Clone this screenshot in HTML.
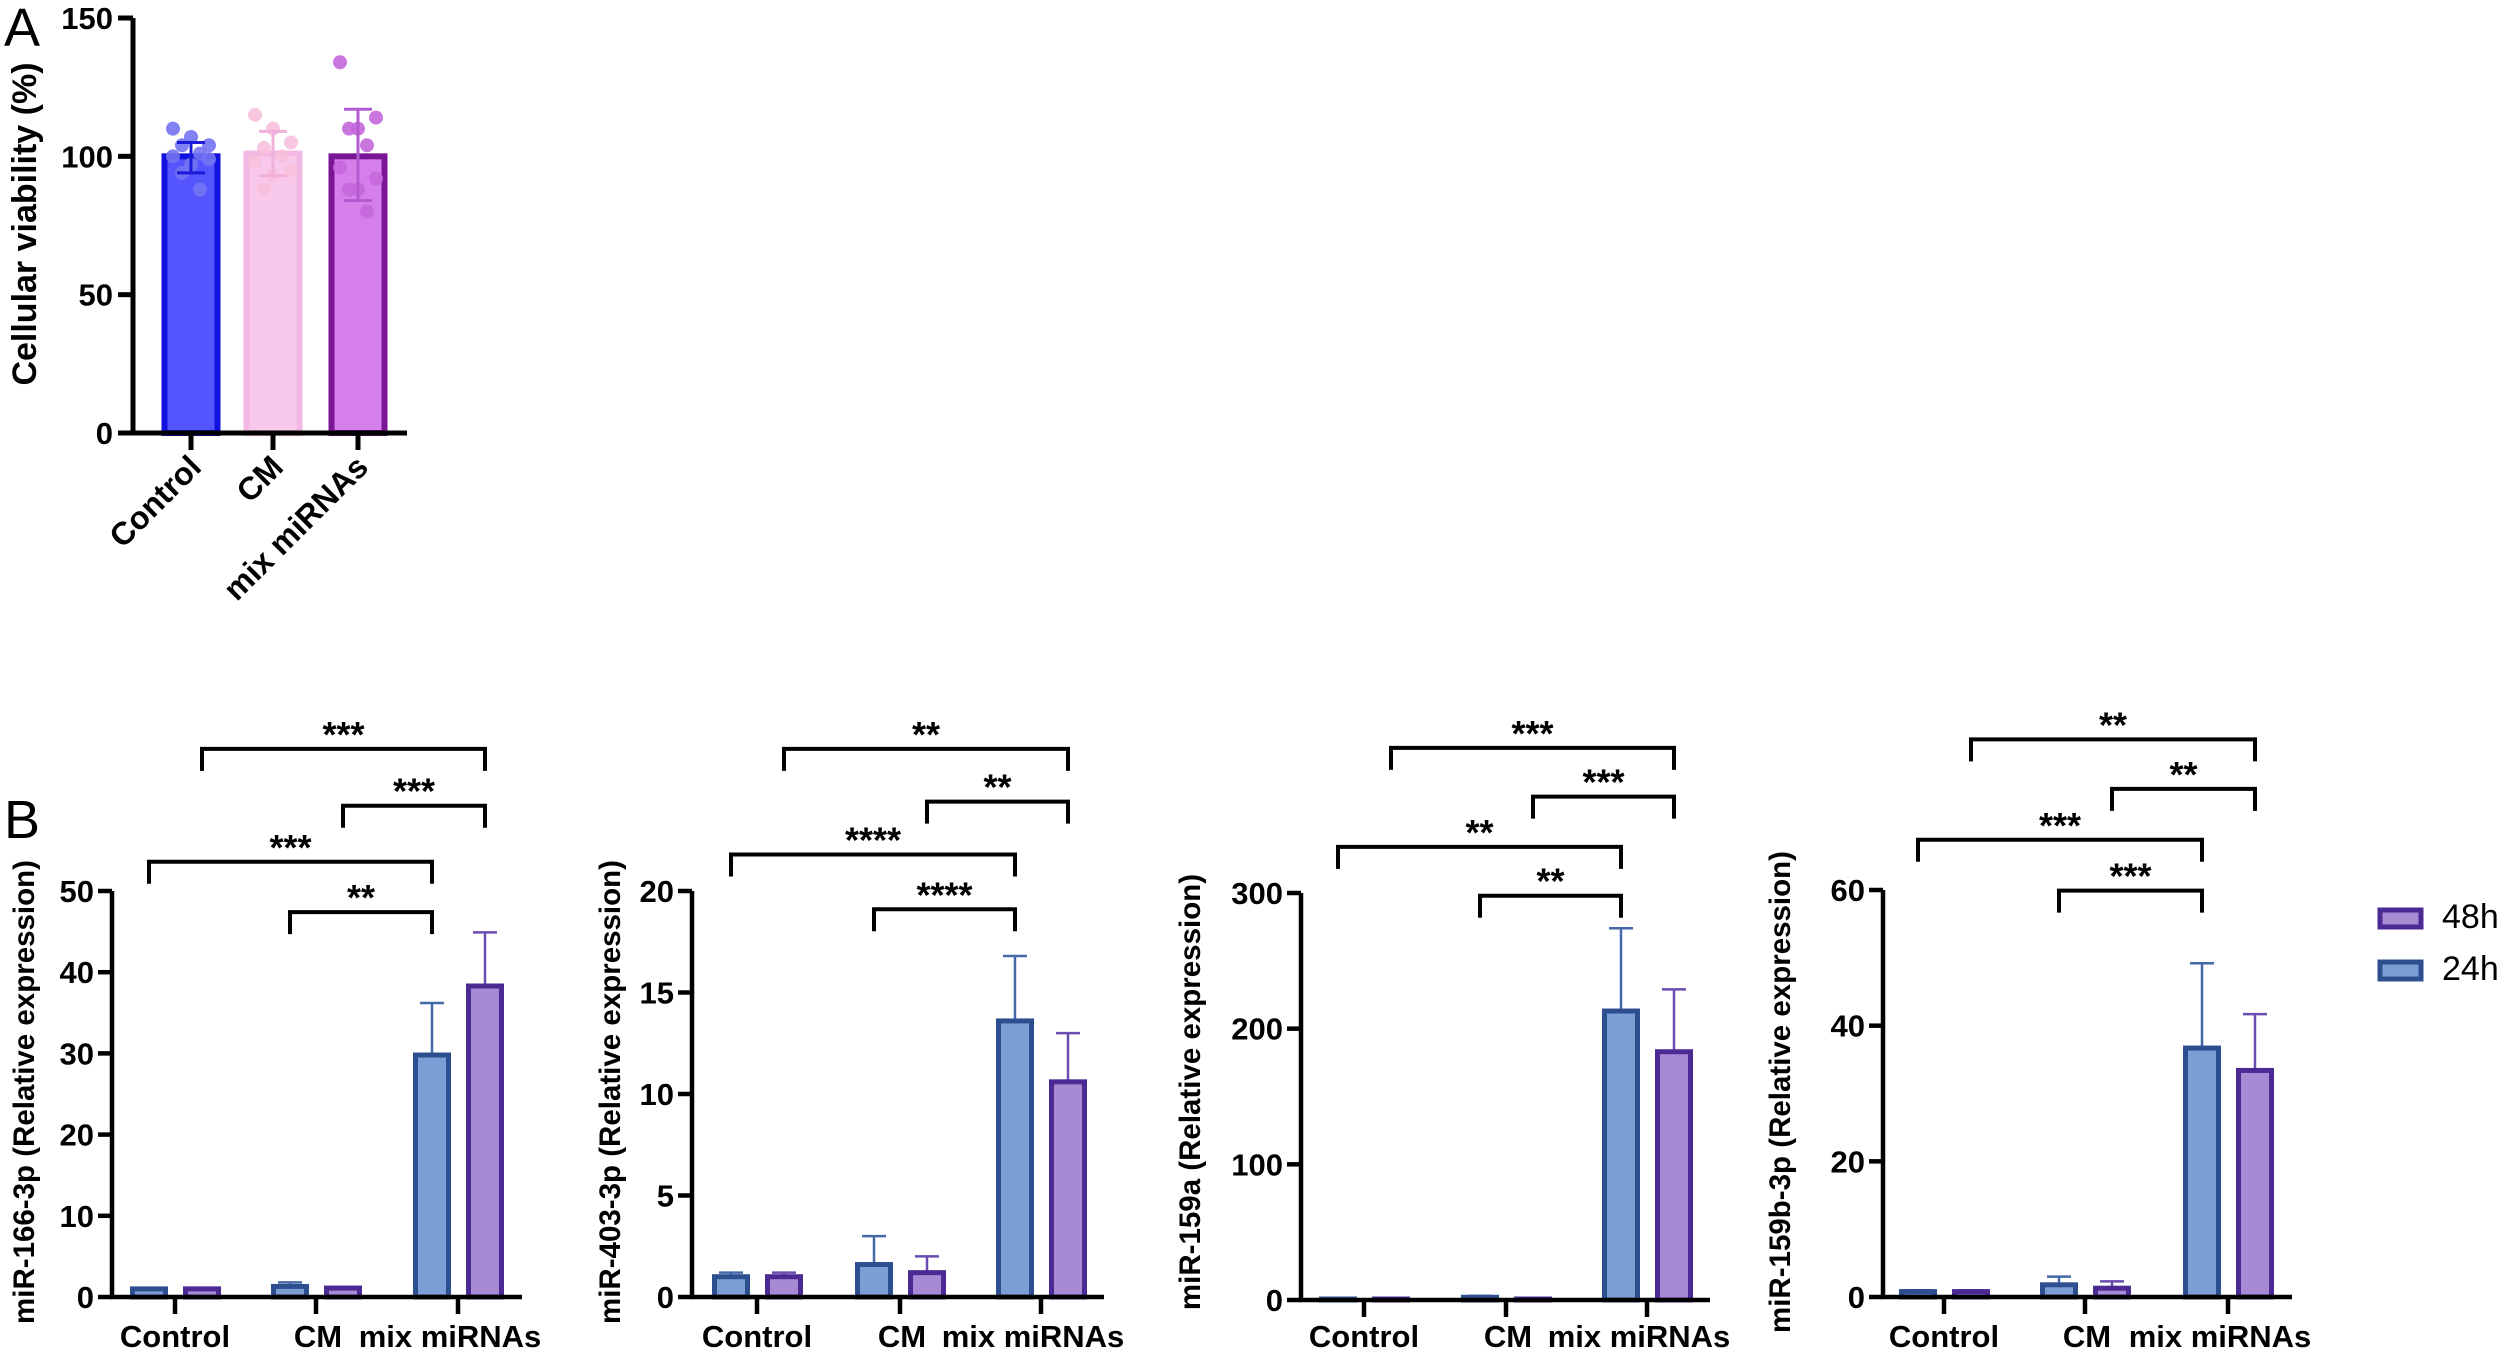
<!DOCTYPE html>
<html><head><meta charset="utf-8"><style>
html,body{margin:0;padding:0;background:#fff;}
svg{display:block;font-family:"Liberation Sans",Arial,sans-serif;}
</style></head><body>
<svg id="fig" width="2508" height="1356" viewBox="0 0 2508 1356" xmlns="http://www.w3.org/2000/svg">
<text x="4" y="46" font-size="54">A</text>
<text x="4" y="838" font-size="54">B</text>
<g id="legend">
 <rect x="2380" y="910" width="41" height="17" fill="#a68ad4" stroke="#4b2a94" stroke-width="5"/>
 <text x="2442" y="928" font-size="34">48h</text>
 <rect x="2380" y="962" width="41" height="17" fill="#7b9fd4" stroke="#2e4f8f" stroke-width="5"/>
 <text x="2442" y="980" font-size="34">24h</text>
</g>
</svg>
<script>
// Panel A data
const aCategories = ["Control", "CM", "mix miRNAs"];
const aMeans = [100, 101, 100];
const aErrHi = [105, 109, 117];
const aErrLo = [94, 93, 84];
const aDots = [
  [110, 107, 104, 104, 101, 100, 99, 97, 94, 88],
  [115, 110, 105, 103, 100, 98, 95, 93, 88],
  [134, 110, 114, 110, 104, 96, 92, 88, 88, 80]
];
const aTicks = [0, 50, 100, 150];

// Panel B data
const bCategories = ["Control", "CM", "mix miRNAs"];
const b1_24 = [1.0, 1.3, 29.8], b1_24err = [1.1, 1.8, 36.2];
const b1_48 = [1.0, 1.1, 38.3], b1_48err = [1.1, 1.2, 44.9];
const b2_24 = [1.0, 1.6, 13.6], b2_24err = [1.2, 3.0, 16.8];
const b2_48 = [1.0, 1.2, 10.6], b2_48err = [1.2, 2.0, 13.0];
const b3_24 = [0.6, 2.0, 213], b3_24err = [0.8, 3.0, 274];
const b3_48 = [0.5, 0.5, 183], b3_48err = [0.6, 0.6, 229];
const b4_24 = [0.8, 1.8, 36.7], b4_24err = [1.0, 3.0, 49.2];
const b4_48 = [0.8, 1.3, 33.4], b4_48err = [1.0, 2.3, 41.7];
const b1Ticks = [0, 10, 20, 30, 40, 50];
const b2Ticks = [0, 5, 10, 15, 20];
const b3Ticks = [0, 100, 200, 300];
const b4Ticks = [0, 20, 40, 60];
// significance: [fromGroup, fromSeries, toGroup, toSeries, level(data units), stars]
const b1Sig = [[0,"48",2,"48",67.5,"***"],[1,"48",2,"48",60.5,"***"],[0,"24",2,"24",53.6,"***"],[1,"24",2,"24",47.4,"**"]];
const b2Sig = [[0,"48",2,"48",27.0,"**"],[1,"48",2,"48",24.4,"**"],[0,"24",2,"24",21.8,"****"],[1,"24",2,"24",19.1,"****"]];
const b3Sig = [[0,"48",2,"48",407,"***"],[1,"48",2,"48",371,"***"],[0,"24",2,"24",334,"**"],[1,"24",2,"24",298,"**"]];
const b4Sig = [[0,"48",2,"48",82.2,"**"],[1,"48",2,"48",74.9,"**"],[0,"24",2,"24",67.4,"***"],[1,"24",2,"24",59.9,"***"]];

const NS = "http://www.w3.org/2000/svg";
const svg = document.getElementById("fig");
function mk(tag, attrs, parent) {
  const e = document.createElementNS(NS, tag);
  for (const k in attrs) e.setAttribute(k, attrs[k]);
  (parent || svg).appendChild(e);
  return e;
}

// ---------- Panel A ----------
(function(){
  const g = mk("g", {});
  
  
  const x0 = 133, y0 = 433, yTop = 18, maxV = 150;
  const y = v => y0 - (v / maxV) * (y0 - yTop);
  const centers = [191, 273, 358];
  const bw = 53;
  const fills = ["#5555ff", "#f9c9ec", "#d580ea"];
  const strokes = ["#1212e0", "#f3b8e3", "#7a1696"];
  const dotCols = ["#7373f2", "#f7c0dc", "#c467dc"];
  const errCols = ["#1a1ad8", "#efb0da", "#b45ad0"];
  aCategories.forEach((c, i) => {
    const r = mk("rect", {x: centers[i]-bw/2, y: y(aMeans[i]), width: bw, height: y0 - y(aMeans[i]), fill: fills[i], stroke: strokes[i], "stroke-width": 6}, g);
    
    
    aDots[i].forEach((v, j) => {
      const off = [-18, 0, 18, -9, 9, -18, 18, 0, -9, 9][j % 10];
      const d = mk("circle", {cx: centers[i] + off, cy: y(v), r: 7, fill: dotCols[i], opacity: 0.9}, g);
      
      
    });
    const e = mk("path", {d: `M${centers[i]} ${y(aErrLo[i])}V${y(aErrHi[i])}M${centers[i]-14} ${y(aErrHi[i])}h28M${centers[i]-14} ${y(aErrLo[i])}h28`, stroke: errCols[i], "stroke-width": 3, fill: "none"}, g);
    
    
    const tk = mk("line", {x1: centers[i], x2: centers[i], y1: y0, y2: y0+17, stroke: "#000", "stroke-width": 5}, g);
    
    
    const t = mk("text", {x: centers[i]+12, y: y0+36, "font-size": 32, "font-weight": "bold", "text-anchor": "end", transform: `rotate(-45 ${centers[i]+12} ${y0+36})`}, g);
    t.textContent = c;
    
    
  });
  const ax = mk("path", {d: `M${x0} ${yTop}V${y0}H407`, stroke: "#000", "stroke-width": 5, fill: "none"}, g);
  
  
  aTicks.forEach(v => {
    const l = mk("line", {x1: x0-15, x2: x0, y1: y(v), y2: y(v), stroke: "#000", "stroke-width": 5}, g);
    
    
    const t = mk("text", {x: x0-20, y: y(v)+11, "font-size": 31, "font-weight": "bold", "text-anchor": "end"}, g);
    t.textContent = v;
    
    
  });
  const yl = mk("text", {x: 36, y: 224, "font-size": 34, "font-weight": "bold", "text-anchor": "middle", transform: "rotate(-90 36 224)"}, g);
  yl.textContent = "Cellular viability (%)";
  
  
})();

// ---------- Panel B ----------
function drawB(cfg) {
  const g = mk("g", {});
  
  
  const y0 = cfg.y0, yTop = cfg.yTop, maxV = cfg.ticks[cfg.ticks.length-1];
  const y = v => y0 - (v / maxV) * (y0 - yTop);
  const bw = 33;
  const series = {
    "24": {vals: cfg.v24, err: cfg.e24, fill: "#7b9fd4", stroke: "#2e4f8f", ecol: "#4468a8", off: -26},
    "48": {vals: cfg.v48, err: cfg.e48, fill: "#a68ad4", stroke: "#4b2a94", ecol: "#6a4db0", off: 27}
  };
  const cx = (gi, s) => cfg.ticksX[gi] + series[s].off;
  ["24", "48"].forEach(s => {
    const S = series[s];
    S.vals.forEach((v, i) => {
      const x = cx(i, s);
      const e = mk("path", {d: `M${x} ${y(v)}V${y(S.err[i])}M${x-12} ${y(S.err[i])}h24`, stroke: S.ecol, "stroke-width": 2.5, fill: "none"}, g);
      
      
      const h = Math.max(y0 - y(v), 1);
      const r = mk("rect", {x: x-bw/2, y: y0-h, width: bw, height: h, fill: S.fill, stroke: S.stroke, "stroke-width": 5}, g);
      
      
    });
  });
  const ax = mk("path", {d: `M${cfg.x0} ${yTop}V${y0}H${cfg.xEnd}`, stroke: "#000", "stroke-width": 4.5, fill: "none"}, g);
  
  
  cfg.ticks.forEach(v => {
    const l = mk("line", {x1: cfg.x0-14, x2: cfg.x0, y1: y(v), y2: y(v), stroke: "#000", "stroke-width": 4.5}, g);
    
    
    const t = mk("text", {x: cfg.x0-18, y: y(v)+11, "font-size": 31, "font-weight": "bold", "text-anchor": "end"}, g);
    t.textContent = v;
    
    
  });
  bCategories.forEach((c, i) => {
    const l = mk("line", {x1: cfg.ticksX[i], x2: cfg.ticksX[i], y1: y0, y2: y0+17, stroke: "#000", "stroke-width": 4.5}, g);
    
    
  });
  const labX = [cfg.ticksX[0], cfg.ticksX[1] + 2, cfg.ticksX[2] - 8];
  bCategories.forEach((c, i) => {
    const t = mk("text", {x: labX[i], y: 1347, "font-size": 31, "font-weight": "bold", "text-anchor": "middle"}, g);
    t.textContent = c;
    
    
  });
  const yl = mk("text", {x: cfg.ylx, y: 1092, "font-size": 29.5, "font-weight": "bold", "text-anchor": "middle", transform: `rotate(-90 ${cfg.ylx} 1092)`}, g);
  yl.textContent = cfg.ylabel;
  
  
  cfg.sig.forEach(sg => {
    const xa = cx(sg[0], sg[1]), xb = cx(sg[2], sg[3]), yy = y(sg[4]);
    const p = mk("path", {d: `M${xa} ${yy+22}V${yy}H${xb}V${yy+22}`, stroke: "#000", "stroke-width": 4, fill: "none"}, g);
    
    
    const t = mk("text", {x: (xa+xb)/2, y: yy-2, "font-size": 36, "font-weight": "bold", "text-anchor": "middle"}, g);
    t.textContent = sg[5];
    
    
  });
}
drawB({name: "mir-166-3p-chart", x0: 112, xEnd: 522, y0: 1297, yTop: 891, ticks: b1Ticks, ticksX: [175, 316, 458], v24: b1_24, e24: b1_24err, v48: b1_48, e48: b1_48err, sig: b1Sig, ylabel: "miR-166-3p (Relative expression)", ylx: 34});
drawB({name: "mir-403-3p-chart", x0: 692, xEnd: 1104, y0: 1297, yTop: 891, ticks: b2Ticks, ticksX: [757, 900, 1041], v24: b2_24, e24: b2_24err, v48: b2_48, e48: b2_48err, sig: b2Sig, ylabel: "miR-403-3p (Relative expression)", ylx: 620});
drawB({name: "mir-159a-chart", x0: 1301, xEnd: 1710, y0: 1300, yTop: 893, ticks: b3Ticks, ticksX: [1364, 1506, 1647], v24: b3_24, e24: b3_24err, v48: b3_48, e48: b3_48err, sig: b3Sig, ylabel: "miR-159a (Relative expression)", ylx: 1200});
drawB({name: "mir-159b-3p-chart", x0: 1883, xEnd: 2292, y0: 1297, yTop: 890, ticks: b4Ticks, ticksX: [1944, 2085, 2228], v24: b4_24, e24: b4_24err, v48: b4_48, e48: b4_48err, sig: b4Sig, ylabel: "miR-159b-3p (Relative expression)", ylx: 1790});
</script>
</body></html>
